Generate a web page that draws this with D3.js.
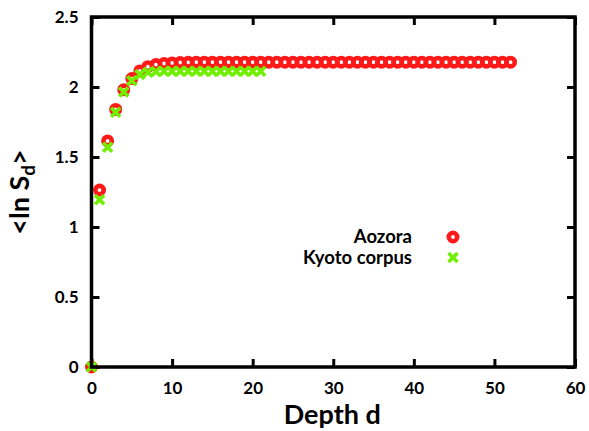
<!DOCTYPE html>
<html><head><meta charset="utf-8">
<script src="https://cdn.jsdelivr.net/npm/d3@7"></script>
<style>body{margin:0;background:#fff}svg{display:block}text{font-family:Lato,"Open Sans",sans-serif;font-weight:700}</style>
</head><body><svg id="c" width="589" height="431"></svg>
<script>
const aozora = [0,1.264,1.615,1.84,1.98,2.06,2.115,2.145,2.16,2.168,2.172,2.175,2.176,2.177,2.177,2.177,2.177,2.177,2.177,2.177,2.177,2.177,2.177,2.177,2.177,2.177,2.177,2.177,2.177,2.177,2.177,2.177,2.177,2.177,2.177,2.177,2.177,2.177,2.177,2.177,2.177,2.177,2.177,2.177,2.177,2.177,2.177,2.177,2.177,2.177,2.177,2.177,2.177];
const kyoto = [0,1.195,1.57,1.82,1.965,2.045,2.09,2.105,2.11,2.112,2.113,2.113,2.113,2.113,2.113,2.113,2.113,2.113,2.113,2.113,2.113,2.113];
const xTicks = [0,10,20,30,40,50,60];
const yTicks = [0,0.5,1,1.5,2,2.5];
const seriesNames = ["Aozora","Kyoto corpus"];

const svg = d3.select("#c");
const L=91.5,R=575,T=17,B=367;
const x = d3.scaleLinear().domain([0,60]).range([L,R]);
const y = d3.scaleLinear().domain([0,2.5]).range([B,T]);
const tl = 8;

const g = svg.append("g");
const ax = d3.axisBottom(x).tickValues(xTicks).tickSize(-tl).tickSizeOuter(0).tickFormat(d3.format("d"));
const gx = g.append("g").attr("transform",`translate(0,${B})`).call(ax);
const ax2 = d3.axisTop(x).tickValues(xTicks).tickSize(-tl).tickSizeOuter(0).tickFormat("");
const gx2 = g.append("g").attr("transform",`translate(0,${T})`).call(ax2);
const ay = d3.axisLeft(y).tickValues(yTicks).tickSize(-tl).tickSizeOuter(0).tickFormat(d=>d3.format("")(d));
const gy = g.append("g").attr("transform",`translate(${L},0)`).call(ay);
const ay2 = d3.axisRight(y).tickValues(yTicks).tickSize(-tl).tickSizeOuter(0).tickFormat("");
const gy2 = g.append("g").attr("transform",`translate(${R},0)`).call(ay2);
[gx,gx2,gy,gy2].forEach(a=>{a.select(".domain").remove();a.selectAll("line").attr("stroke","#000").attr("stroke-width",3);});
gx.selectAll("text").attr("font-size",17).attr("dy","0").attr("y",27).attr("fill","#000");
gy.selectAll("text").attr("font-size",17).attr("x",-13).attr("dy","0.35em").attr("fill","#000");

const pa = g.append("g");
pa.selectAll("circle").data(aozora).join("circle")
  .attr("cx",(d,i)=>x(i)).attr("cy",d=>y(d)).attr("r",4.2)
  .attr("fill","none").attr("stroke","#ff1a1a").attr("stroke-width",4.6);
const cross = (sel,s)=>sel.attr("d",`M${-s},${-s}L${s},${s}M${-s},${s}L${s},${-s}`);
const pk = g.append("g");
pk.selectAll("path").data(kyoto).join("path")
  .attr("transform",(d,i)=>`translate(${x(i)},${y(d)})`)
  .call(cross,4.5).attr("fill","none").attr("stroke","#70f000").attr("stroke-width",3.6);

g.append("rect").attr("x",L).attr("y",T).attr("width",R-L).attr("height",B-T)
  .attr("fill","none").attr("stroke","#000").attr("stroke-width",3.5);

const lx=412, mx=453;
g.append("text").attr("x",lx).attr("y",243).attr("text-anchor","end").attr("font-size",18.5).text(seriesNames[0]);
g.append("text").attr("x",lx).attr("y",264).attr("text-anchor","end").attr("font-size",18.5).text(seriesNames[1]);
g.append("circle").attr("cx",mx).attr("cy",237).attr("r",4.2).attr("fill","none").attr("stroke","#ff1a1a").attr("stroke-width",4.6);
g.append("path").attr("transform",`translate(${mx},257.5)`).call(cross,4.5).attr("fill","none").attr("stroke","#70f000").attr("stroke-width",3.6);

g.append("text").attr("x",(L+R)/2-1).attr("y",424).attr("text-anchor","middle").attr("font-size",27).text("Depth d");
const yt = g.append("text").attr("transform",`translate(29,${(T+B)/2}) rotate(-90)`).attr("text-anchor","middle").attr("font-size",27);
yt.append("tspan").text("<ln S");
yt.append("tspan").attr("font-size",19).attr("dy",6).text("d");
yt.append("tspan").attr("dy",-6).text(">");
</script></body></html>
